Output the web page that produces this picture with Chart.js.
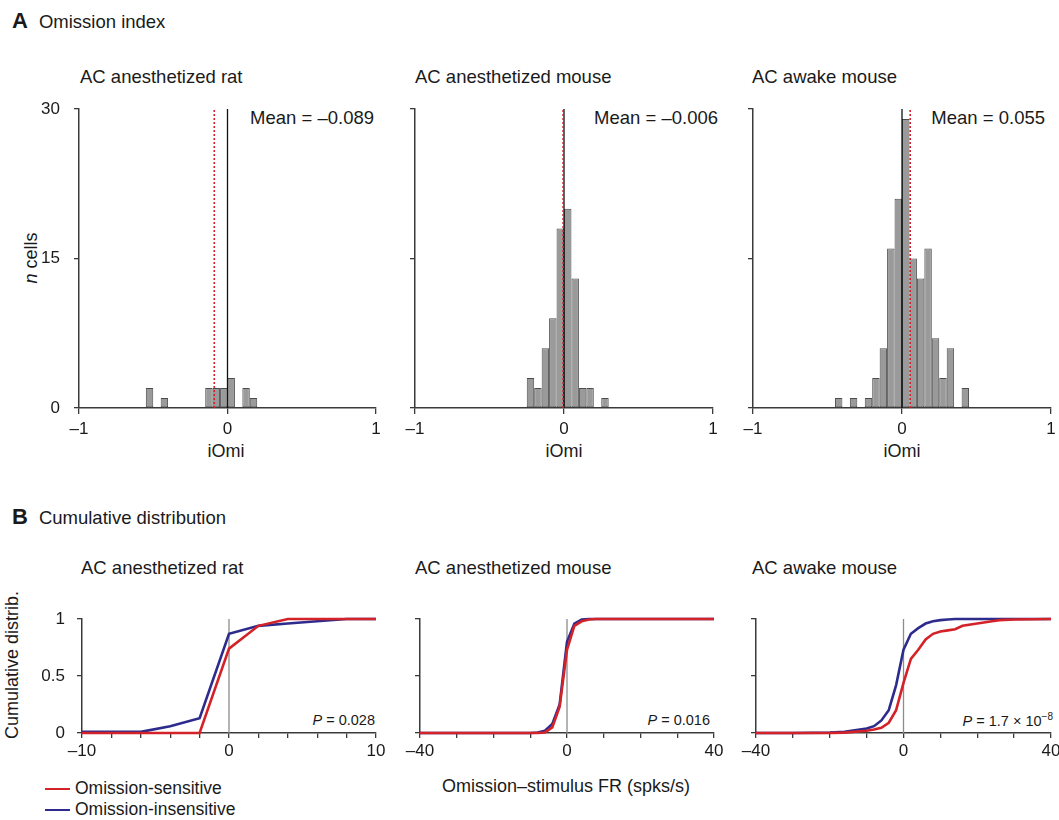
<!DOCTYPE html>
<html>
<head>
<meta charset="utf-8">
<script src="https://cdn.jsdelivr.net/npm/chart.js@4.4.1/dist/chart.umd.min.js"></script>
<style>
  body { margin: 0; background: #fff; }
  #fig { position: relative; width: 1059px; height: 820px; overflow: hidden;
         font-family: "Liberation Sans", Arial, sans-serif; color: #1a1a1a; }
  #fig canvas { position: absolute; }
  .t { position: absolute; white-space: nowrap; line-height: 1; transform: translateY(-50%); }
  .r { transform: translate(-100%, -50%); }
  .c { transform: translate(-50%, -50%); }
  .rot { transform: translate(-50%, -50%) rotate(-90deg); }
  .head { font-size: 18.5px; }
  .head b { font-size: 22px; margin-right: 11px; }
  .title { font-size: 18.5px; }
  .mean { font-size: 18.5px; }
  .pval { font-size: 14.5px; }
  .pval sup { font-size: 10px; vertical-align: 6px; }
  .axt { font-size: 18px; }
  .key { font-size: 17.5px; }
  .swatch { position: absolute; width: 25px; height: 0; border-top: 2.6px solid; transform: translateY(-50%); }
</style>
</head>
<body>
<div id="fig">
  <div class="t head" style="left:12px; top:21px"><b>A</b>Omission index</div>
  <div class="t head" style="left:12px; top:517px"><b>B</b>Cumulative distribution</div>

  <div class="t title" style="left:80px; top:77px">AC anesthetized rat</div>
  <div class="t title" style="left:415px; top:77px">AC anesthetized mouse</div>
  <div class="t title" style="left:752px; top:77px">AC awake mouse</div>
  <div class="t title" style="left:81px; top:568px">AC anesthetized rat</div>
  <div class="t title" style="left:415px; top:568px">AC anesthetized mouse</div>
  <div class="t title" style="left:752px; top:568px">AC awake mouse</div>

  <div class="t mean r" style="left:374px; top:118px">Mean = &ndash;0.089</div>
  <div class="t mean r" style="left:718px; top:118px">Mean = &ndash;0.006</div>
  <div class="t mean r" style="left:1045px; top:118px">Mean = 0.055</div>

  <div class="t pval r" style="left:375px; top:720px"><i>P</i> = 0.028</div>
  <div class="t pval r" style="left:710px; top:720px"><i>P</i> = 0.016</div>
  <div class="t pval r" style="left:1053px; top:720px"><i>P</i> = 1.7 &times; 10<sup>&minus;8</sup></div>

  <div class="t axt rot" style="left:31px; top:258px"><i>n</i> cells</div>
  <div class="t axt rot" style="left:12px; top:665px">Cumulative distrib.</div>
  <div class="t axt c" style="left:226px; top:451px">iOmi</div>
  <div class="t axt c" style="left:564px; top:451px">iOmi</div>
  <div class="t axt c" style="left:902px; top:451px">iOmi</div>
  <div class="t axt c" style="left:566px; top:786px">Omission&ndash;stimulus FR (spks/s)</div>

  <div class="swatch" style="left:45px; top:789px; border-color:#d42229"></div>
  <div class="t key" style="left:75px; top:789px">Omission-sensitive</div>
  <div class="swatch" style="left:45px; top:810px; border-color:#2d2b8c"></div>
  <div class="t key" style="left:75px; top:810px">Omission-insensitive</div>
</div>

<script>
// iOmi histograms: bin centres (bin width 0.05) and cell counts
const ratBins = [-0.525, -0.425, -0.125, -0.075, -0.025, 0.025, 0.125, 0.175];
const ratCounts = [2, 1, 2, 2, 2, 3, 2, 1];
const anMouseBins = [-0.225, -0.175, -0.125, -0.075, -0.025, 0.025, 0.075, 0.125, 0.175, 0.275];
const anMouseCounts = [3, 2, 6, 9, 18, 20, 13, 2, 2, 1];
const awakeBins = [-0.425, -0.325, -0.225, -0.175, -0.125, -0.075, -0.025, 0.025, 0.075, 0.125, 0.175, 0.225, 0.275, 0.325, 0.425];
const awakeCounts = [1, 1, 1, 3, 6, 16, 21, 29, 15, 13, 16, 7, 3, 6, 2];
const iomiMeans = [-0.089, -0.006, 0.055];

const iomiTicks = [-1, 0, 1];
const countTicks = [0, 15, 30];

// cumulative distributions of omission - stimulus firing rate (spks/s)
const ratFr = [-10, -8, -6, -4, -2, 0, 2, 4, 6, 8, 10];
const ratSensitive = [0, 0, 0, 0, 0, 0.74, 0.94, 1, 1, 1, 1];
const ratInsensitive = [0.01, 0.01, 0.01, 0.06, 0.13, 0.87, 0.94, 0.96, 0.98, 1, 1];

const anMouseFr = [-40, -30, -20, -10, -8, -6, -4, -2, 0, 2, 4, 6, 8, 10, 20, 30, 40];
const anMouseSensitive = [0, 0, 0, 0, 0, 0.005, 0.05, 0.23, 0.73, 0.94, 0.98, 0.995, 1, 1, 1, 1, 1];
const anMouseInsensitive = [0, 0, 0, 0, 0.005, 0.02, 0.08, 0.25, 0.8, 0.96, 0.995, 1, 1, 1, 1, 1, 1];

const awakeFr = [-40, -30, -20, -16, -10, -8, -6, -4, -2, 0, 2, 4, 6, 8, 10, 12, 14, 16, 20, 24, 26, 30, 40];
const awakeSensitive = [0, 0, 0, 0.003, 0.02, 0.03, 0.045, 0.09, 0.2, 0.44, 0.65, 0.73, 0.82, 0.87, 0.89, 0.9, 0.91, 0.94, 0.96, 0.98, 0.99, 0.995, 1];
const awakeInsensitive = [0, 0, 0.003, 0.01, 0.04, 0.06, 0.11, 0.2, 0.42, 0.73, 0.87, 0.92, 0.96, 0.98, 0.99, 0.995, 1, 1, 1, 1, 1, 1, 1];

const ratFrTicks = [-10, 0, 10];
const mouseFrTicks = [-40, 0, 40];
const cdfTicks = [0, 0.5, 1];

const RED = '#d42229';
const BLUE = '#2d2b8c';
const AXIS = '#3a3a3a';

Chart.defaults.font.family = '"Liberation Sans", Arial, sans-serif';
Chart.defaults.font.size = 17;
Chart.defaults.color = '#1a1a1a';
Chart.defaults.animation = false;

const fig = document.getElementById('fig');
// room around each plot area for ticks and labels (kept larger than the scales' own padding)
const PAD = { l: 70, t: 32, r: 30, b: 36 };

// plot areas [left, top, right, bottom]
const histAreas = [[79, 109, 376, 408], [415, 109, 713, 408], [753, 109, 1051, 408]];
const cdfAreas = [[82, 619, 376, 733], [420, 619, 714, 733], [756, 619, 1051, 733]];

function makeCanvas(area) {
  const c = document.createElement('canvas');
  c.width = area[2] - area[0] + PAD.l + PAD.r;
  c.height = area[3] - area[1] + PAD.t + PAD.b;
  c.style.left = (area[0] - PAD.l) + 'px';
  c.style.top = (area[1] - PAD.t) + 'px';
  fig.appendChild(c);
  return c;
}

function dash(v) {
  return v < 0 ? '\u2013' + Math.abs(v) : String(v);
}

function axis(min, max, step, labelled, tickLen, pad, fit) {
  return {
    type: 'linear',
    min: min,
    max: max,
    offset: false,
    ticks: {
      stepSize: step,
      autoSkip: false,
      maxRotation: 0,
      minRotation: 0,
      padding: pad,
      callback: v => (labelled && labelled.includes(v) ? dash(v) : '')
    },
    grid: { drawOnChartArea: false, offset: false, tickLength: tickLen, color: AXIS, lineWidth: 1.3 },
    border: { color: AXIS, width: 1.5 },
    afterFit: fit
  };
}

function baseOptions(xAxis, yAxis) {
  return {
    responsive: false,
    maintainAspectRatio: false,
    layout: { padding: { left: 0, top: PAD.t, right: PAD.r, bottom: 0 } },
    plugins: { legend: { display: false }, tooltip: { enabled: false } },
    scales: { x: xAxis, y: yAxis }
  };
}

function vline(x, y0, y1, color, width, dashes, order) {
  return {
    type: 'line',
    data: [{ x: x, y: y0 }, { x: x, y: y1 }],
    borderColor: color,
    borderWidth: width,
    borderDash: dashes,
    pointRadius: 0,
    clip: false,
    order: order
  };
}

function histChart(i, bins, counts, withLabels) {
  const top = countTicks[countTicks.length - 1];
  new Chart(makeCanvas(histAreas[i]), {
    type: 'bar',
    data: {
      datasets: [
        vline(iomiMeans[i], 0, top, RED, 1.6, [2, 2], 0),
        vline(0, 0, top, '#111', 1.3, [], 1),
        {
          type: 'bar',
          data: bins.map((b, k) => ({ x: b, y: counts[k] })),
          backgroundColor: '#9a9a9a',
          borderColor: '#4c4c4c',
          borderWidth: 1,
          borderSkipped: false,
          barPercentage: 1,
          categoryPercentage: 1,
          inflateAmount: 0,
          order: 2
        }
      ]
    },
    options: baseOptions(
      axis(iomiTicks[0], iomiTicks[2], 1, iomiTicks, 6, 5, s => { s.height = PAD.b; }),
      axis(countTicks[0], top, 15, withLabels ? countTicks : null, 5, 14, s => { s.width = PAD.l; })
    )
  });
}

function cdfChart(i, fr, sensitive, insensitive, frTicks, step, withLabels) {
  const curve = (ys, color, order) => ({
    type: 'line',
    data: fr.map((x, k) => ({ x: x, y: ys[k] })),
    borderColor: color,
    borderWidth: 2.6,
    pointRadius: 0,
    tension: 0,
    clip: false,
    order: order
  });
  new Chart(makeCanvas(cdfAreas[i]), {
    type: 'line',
    data: {
      datasets: [
        curve(sensitive, RED, 0),
        curve(insensitive, BLUE, 1),
        vline(0, 0, 1, '#8c8c8c', 1.3, [], 2)
      ]
    },
    options: baseOptions(
      axis(frTicks[0], frTicks[2], step, frTicks, 5, 3, s => { s.height = PAD.b; }),
      axis(cdfTicks[0], cdfTicks[2], 0.5, withLabels ? cdfTicks : null, 5, 12, s => { s.width = PAD.l; })
    )
  });
}

histChart(0, ratBins, ratCounts, true);
histChart(1, anMouseBins, anMouseCounts, false);
histChart(2, awakeBins, awakeCounts, false);

cdfChart(0, ratFr, ratSensitive, ratInsensitive, ratFrTicks, 2, true);
cdfChart(1, anMouseFr, anMouseSensitive, anMouseInsensitive, mouseFrTicks, 10, false);
cdfChart(2, awakeFr, awakeSensitive, awakeInsensitive, mouseFrTicks, 10, false);
</script>
</body>
</html>
